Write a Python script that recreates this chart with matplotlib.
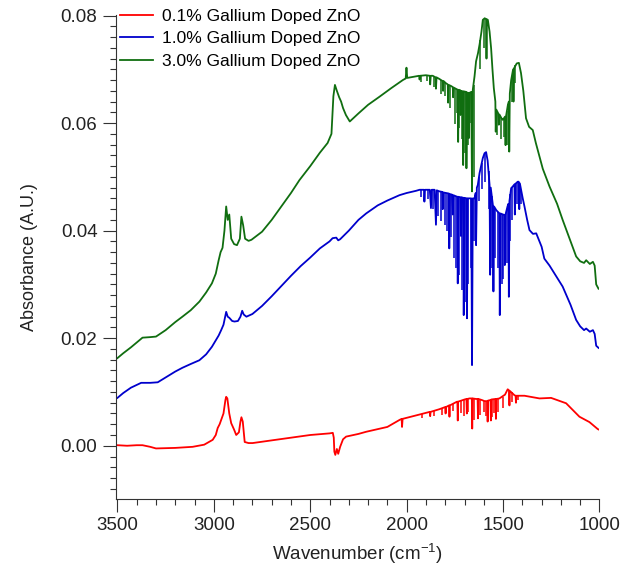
import matplotlib
matplotlib.use("Agg")
import matplotlib.pyplot as plt
from matplotlib.ticker import MultipleLocator

plt.rcParams['font.family'] = ['Liberation Sans', 'DejaVu Sans']
plt.rcParams['mathtext.default'] = 'regular'

# 0.1% Ga doped ZnO (red)
wn_01 = [3500, 3450, 3400, 3370, 3330, 3300, 3200, 3110, 3050, 3006, 2990, 2980, 2970,
         2962, 2950, 2940, 2936, 2930, 2920, 2910, 2895, 2884, 2870, 2862, 2857, 2850,
         2840, 2820, 2799, 2700, 2600, 2500, 2400, 2383, 2378, 2375, 2370, 2362, 2355,
         2345, 2330, 2314, 2250, 2210, 2100, 2037, 2026, 2024, 2021, 1934, 1880, 1878,
         1876, 1830, 1800, 1798, 1796, 1780, 1778, 1776, 1744, 1737, 1735, 1733, 1700,
         1690, 1688, 1686, 1674, 1662, 1660, 1658, 1640, 1632, 1630, 1628, 1610, 1596,
         1582, 1580, 1578, 1565, 1563, 1561, 1539, 1537, 1535, 1519, 1490, 1476, 1469,
         1467, 1465, 1450, 1441, 1435, 1433, 1431, 1389, 1311, 1251, 1173, 1104, 1052,
         1009, 1003]
abs_01 = [0.0001, 0.0000, 0.0001, 0.0001, -0.0002, -0.0005, -0.0004, -0.0002, 0.0002,
          0.0011, 0.0020, 0.0033, 0.0040, 0.0048, 0.0060, 0.0085, 0.0091, 0.0088, 0.0060,
          0.0042, 0.0030, 0.0020, 0.0025, 0.0045, 0.0053, 0.0045, 0.0007, 0.0005, 0.0005,
          0.0010, 0.0015, 0.0020, 0.0023, 0.0024, 0.0015, -0.0011, -0.0017, -0.0006,
          -0.0015, -0.0002, 0.0012, 0.0017, 0.0022, 0.0026, 0.0035, 0.0048, 0.0050,
          0.0035, 0.0050, 0.0058, 0.0063, 0.0055, 0.0063, 0.0068, 0.0072, 0.0060, 0.0072,
          0.0075, 0.0054, 0.0075, 0.0081, 0.0082, 0.0047, 0.0082, 0.0086, 0.0087, 0.0060,
          0.0087, 0.0088, 0.0088, 0.0032, 0.0088, 0.0087, 0.0087, 0.0051, 0.0087, 0.0085,
          0.0083, 0.0083, 0.0045, 0.0084, 0.0085, 0.0047, 0.0086, 0.0087, 0.0050, 0.0087,
          0.0088, 0.0095, 0.0105, 0.0103, 0.0075, 0.0102, 0.0097, 0.0094, 0.0093, 0.0080,
          0.0093, 0.0093, 0.0088, 0.0089, 0.0079, 0.0054, 0.0044, 0.0031, 0.0030]
# water vapour spikes: wavenumber, spike tip, local baseline
spk_wn_01 = [1920, 1860, 1815, 1760, 1720, 1705, 1680, 1650, 1620, 1600, 1590, 1555, 1545,
             1525, 1500, 1455, 1420]
spk_lo_01 = [0.0052, 0.0055, 0.0058, 0.0065, 0.0060, 0.0055, 0.0062, 0.0048, 0.0058,
             0.0062, 0.0055, 0.0053, 0.0060, 0.0062, 0.0070, 0.0082, 0.0085]
spk_hi_01 = [0.0059, 0.0065, 0.0070, 0.0078, 0.0084, 0.0086, 0.0088, 0.0088, 0.0086,
             0.0084, 0.0083, 0.0086, 0.0087, 0.0088, 0.0090, 0.0100, 0.0093]

# 1.0% Ga doped ZnO (blue)
wn_10 = [3500, 3470, 3430, 3400, 3377, 3330, 3291, 3250, 3200, 3163, 3120, 3075, 3040,
         3010, 2988, 2975, 2962, 2950, 2936, 2928, 2920, 2905, 2893, 2875, 2862, 2853,
         2845, 2831, 2800, 2750, 2700, 2650, 2600, 2550, 2500, 2450, 2400, 2384, 2365,
         2355, 2345, 2300, 2250, 2210, 2150, 2100, 2055, 2037, 2000, 1952, 1933, 1910,
         1908, 1905, 1880, 1874, 1870, 1855, 1848, 1844, 1830, 1815, 1813, 1810, 1795,
         1781, 1779, 1776, 1765, 1761, 1758, 1745, 1737, 1735, 1732, 1720, 1718, 1715,
         1706, 1704, 1700, 1689, 1687, 1684, 1674, 1665, 1661, 1657, 1648, 1642, 1640,
         1636, 1631, 1622, 1614, 1605, 1596, 1588, 1580, 1570, 1567, 1564, 1553, 1550,
         1547, 1535, 1519, 1517, 1514, 1500, 1493, 1491, 1488, 1477, 1472, 1470, 1467,
         1458, 1450, 1441, 1439, 1436, 1424, 1419, 1416, 1413, 1398, 1389, 1375, 1363,
         1345, 1328, 1300, 1286, 1259, 1191, 1150, 1121, 1100, 1080, 1069, 1050, 1034,
         1025, 1017, 1005]
abs_10 = [0.0089, 0.0098, 0.0108, 0.0113, 0.0117, 0.0117, 0.0118, 0.0127, 0.0138, 0.0145,
          0.0152, 0.0159, 0.0170, 0.0184, 0.0197, 0.0205, 0.0215, 0.0225, 0.0249, 0.0240,
          0.0238, 0.0232, 0.0231, 0.0232, 0.0240, 0.0251, 0.0244, 0.0240, 0.0245, 0.0260,
          0.0278, 0.0297, 0.0316, 0.0334, 0.0350, 0.0367, 0.0380, 0.0386, 0.0387, 0.0382,
          0.0384, 0.0400, 0.0420, 0.0432, 0.0447, 0.0456, 0.0463, 0.0466, 0.0470, 0.0474,
          0.0476, 0.0476, 0.0454, 0.0476, 0.0476, 0.0442, 0.0476, 0.0476, 0.0411, 0.0475,
          0.0473, 0.0472, 0.0440, 0.0471, 0.0470, 0.0469, 0.0367, 0.0468, 0.0467, 0.0430,
          0.0466, 0.0464, 0.0463, 0.0302, 0.0463, 0.0462, 0.0390, 0.0462, 0.0461, 0.0243,
          0.0461, 0.0460, 0.0237, 0.0460, 0.0460, 0.0460, 0.0150, 0.0460, 0.0460, 0.0470,
          0.0373, 0.0480, 0.0485, 0.0507, 0.0520, 0.0535, 0.0544, 0.0546, 0.0530, 0.0485,
          0.0318, 0.0480, 0.0448, 0.0287, 0.0445, 0.0438, 0.0432, 0.0243, 0.0432, 0.0430,
          0.0429, 0.0336, 0.0429, 0.0445, 0.0450, 0.0277, 0.0455, 0.0479, 0.0482, 0.0486,
          0.0430, 0.0487, 0.0491, 0.0491, 0.0440, 0.0488, 0.0460, 0.0445, 0.0420, 0.0401,
          0.0394, 0.0395, 0.0370, 0.0348, 0.0335, 0.0296, 0.0262, 0.0234, 0.0222, 0.0215,
          0.0218, 0.0212, 0.0215, 0.0208, 0.0186, 0.0182]
spk_wn_10 = [1925, 1890, 1862, 1835, 1822, 1800, 1790, 1770, 1752, 1742, 1727, 1711, 1695,
             1680, 1668, 1652, 1625, 1610, 1592, 1575, 1558, 1542, 1528, 1508, 1498, 1482,
             1462, 1452, 1430, 1406]
spk_lo_10 = [0.0462, 0.0458, 0.0440, 0.0428, 0.0418, 0.0410, 0.0400, 0.0388, 0.0350,
             0.0330, 0.0318, 0.0290, 0.0268, 0.0300, 0.0330, 0.0380, 0.0455, 0.0478,
             0.0490, 0.0440, 0.0330, 0.0350, 0.0330, 0.0300, 0.0310, 0.0340, 0.0380,
             0.0420, 0.0450, 0.0450]
spk_hi_10 = [0.0476, 0.0476, 0.0476, 0.0474, 0.0473, 0.0471, 0.0470, 0.0468, 0.0465,
             0.0464, 0.0462, 0.0461, 0.0460, 0.0460, 0.0460, 0.0460, 0.0500, 0.0525,
             0.0545, 0.0510, 0.0465, 0.0442, 0.0435, 0.0431, 0.0430, 0.0438, 0.0468,
             0.0481, 0.0489, 0.0475]

# 3.0% Ga doped ZnO (green)
wn_30 = [3500, 3470, 3430, 3390, 3370, 3330, 3300, 3250, 3200, 3163, 3120, 3075, 3040,
         3010, 2990, 2975, 2965, 2955, 2945, 2936, 2928, 2920, 2910, 2895, 2880, 2865,
         2857, 2848, 2838, 2820, 2805, 2750, 2700, 2650, 2600, 2556, 2500, 2450, 2410,
         2390, 2380, 2372, 2362, 2350, 2340, 2330, 2315, 2295, 2250, 2200, 2141, 2080,
         2020, 2005, 2001, 1997, 1952, 1935, 1933, 1930, 1900, 1880, 1878, 1875, 1865,
         1850, 1848, 1845, 1830, 1813, 1811, 1808, 1796, 1787, 1785, 1782, 1770, 1761,
         1759, 1756, 1745, 1735, 1733, 1730, 1722, 1720, 1717, 1709, 1707, 1704, 1692,
         1690, 1687, 1680, 1678, 1675, 1665, 1661, 1657, 1648, 1640, 1630, 1622, 1612,
         1605, 1595, 1588, 1586, 1584, 1579, 1570, 1562, 1555, 1548, 1540, 1538, 1535,
         1525, 1522, 1519, 1505, 1501, 1490, 1487, 1484, 1475, 1470, 1468, 1465, 1458,
         1448, 1446, 1443, 1429, 1418, 1407, 1395, 1381, 1365, 1346, 1330, 1294, 1259,
         1220, 1191, 1150, 1121, 1100, 1080, 1069, 1050, 1034, 1025, 1017, 1005]
abs_30 = [0.0163, 0.0172, 0.0183, 0.0195, 0.0201, 0.0202, 0.0203, 0.0215, 0.0230, 0.0240,
          0.0252, 0.0268, 0.0285, 0.0302, 0.0320, 0.0345, 0.0360, 0.0368, 0.0400, 0.0445,
          0.0420, 0.0430, 0.0385, 0.0375, 0.0373, 0.0385, 0.0426, 0.0410, 0.0385, 0.0381,
          0.0383, 0.0398, 0.0420, 0.0445, 0.0470, 0.0494, 0.0520, 0.0545, 0.0563, 0.0580,
          0.0650, 0.0671, 0.0660, 0.0648, 0.0640, 0.0628, 0.0615, 0.0603, 0.0618, 0.0634,
          0.0649, 0.0665, 0.0680, 0.0683, 0.0703, 0.0684, 0.0687, 0.0688, 0.0681, 0.0688,
          0.0689, 0.0688, 0.0672, 0.0688, 0.0688, 0.0685, 0.0664, 0.0685, 0.0682, 0.0678,
          0.0660, 0.0678, 0.0674, 0.0672, 0.0638, 0.0671, 0.0669, 0.0667, 0.0648, 0.0666,
          0.0664, 0.0662, 0.0565, 0.0662, 0.0661, 0.0615, 0.0660, 0.0659, 0.0522, 0.0659,
          0.0658, 0.0516, 0.0657, 0.0656, 0.0572, 0.0656, 0.0658, 0.0473, 0.0662, 0.0687,
          0.0715, 0.0730, 0.0746, 0.0770, 0.0792, 0.0795, 0.0793, 0.0720, 0.0793, 0.0792,
          0.0770, 0.0739, 0.0700, 0.0665, 0.0640, 0.0584, 0.0625, 0.0618, 0.0597, 0.0616,
          0.0607, 0.0606, 0.0612, 0.0559, 0.0614, 0.0634, 0.0640, 0.0547, 0.0655, 0.0680,
          0.0700, 0.0640, 0.0702, 0.0711, 0.0712, 0.0693, 0.0660, 0.0609, 0.0593, 0.0587,
          0.0563, 0.0515, 0.0482, 0.0450, 0.0420, 0.0380, 0.0352, 0.0343, 0.0340, 0.0345,
          0.0338, 0.0342, 0.0335, 0.0300, 0.0292]
spk_wn_30 = [1925, 1895, 1860, 1823, 1800, 1775, 1750, 1740, 1727, 1713, 1697, 1683, 1670,
             1653, 1618, 1600, 1530, 1512, 1497, 1480, 1455, 1436]
spk_lo_30 = [0.0676, 0.0678, 0.0668, 0.0655, 0.0650, 0.0628, 0.0598, 0.0618, 0.0590,
             0.0570, 0.0545, 0.0560, 0.0600, 0.0500, 0.0700, 0.0740, 0.0578, 0.0570,
             0.0575, 0.0560, 0.0640, 0.0675]
spk_hi_30 = [0.0688, 0.0689, 0.0687, 0.0681, 0.0676, 0.0670, 0.0665, 0.0664, 0.0662,
             0.0660, 0.0659, 0.0657, 0.0656, 0.0670, 0.0755, 0.0794, 0.0622, 0.0612,
             0.0608, 0.0622, 0.0685, 0.0708]

labels = ['0.1% Gallium Doped ZnO', '1.0% Gallium Doped ZnO', '3.0% Gallium Doped ZnO']
colors = ['#ff0000', '#0000cc', '#106e10']

fig = plt.figure(figsize=(6.2, 5.77), dpi=100)
ax = fig.add_axes([0.1863, 0.1352, 0.7806, 0.8388])

series = [(wn_01, abs_01, spk_wn_01, spk_lo_01, spk_hi_01),
          (wn_10, abs_10, spk_wn_10, spk_lo_10, spk_hi_10),
          (wn_30, abs_30, spk_wn_30, spk_lo_30, spk_hi_30)]
for (wn, ab, swn, slo, shi), lab, col in zip(series, labels, colors):
    ax.plot(wn, ab, color=col, lw=1.3, label=lab)
    ax.vlines(swn, slo, shi, color=col, lw=1.1)

ax.set_xlim(3510, 1000)
ax.set_ylim(-0.0099, 0.0801)

ax.spines['top'].set_visible(False)
ax.spines['right'].set_visible(False)
for s in ['left', 'bottom']:
    ax.spines[s].set_linewidth(0.8)
    ax.spines[s].set_color('#333333')

ax.xaxis.set_major_locator(MultipleLocator(500))
ax.xaxis.set_minor_locator(MultipleLocator(100))
ax.yaxis.set_major_locator(MultipleLocator(0.02))
ax.yaxis.set_minor_locator(MultipleLocator(0.002))
ax.yaxis.set_major_formatter(matplotlib.ticker.FormatStrFormatter('%.2f'))
ax.tick_params(which='major', direction='out', length=9.5, width=0.8,
               labelsize=13.5, pad=3.5, color='#333333', labelcolor='#222222')
ax.tick_params(which='minor', direction='out', length=4.5, width=0.8, color='#333333')

ax.set_xlabel('Wavenumber (cm$^{-1}$)', fontsize=13.5, color='#222222', labelpad=6)
ax.set_ylabel('Absorbance (A.U.)', fontsize=13, color='#222222', labelpad=16)

ax.legend(loc='upper left', bbox_to_anchor=(0.009, 1.013), frameon=False, fontsize=12.5,
          handlelength=1.9, handletextpad=0.55, labelspacing=0.42, borderpad=0,
          borderaxespad=0)

fig.savefig('out.png', dpi=100)
